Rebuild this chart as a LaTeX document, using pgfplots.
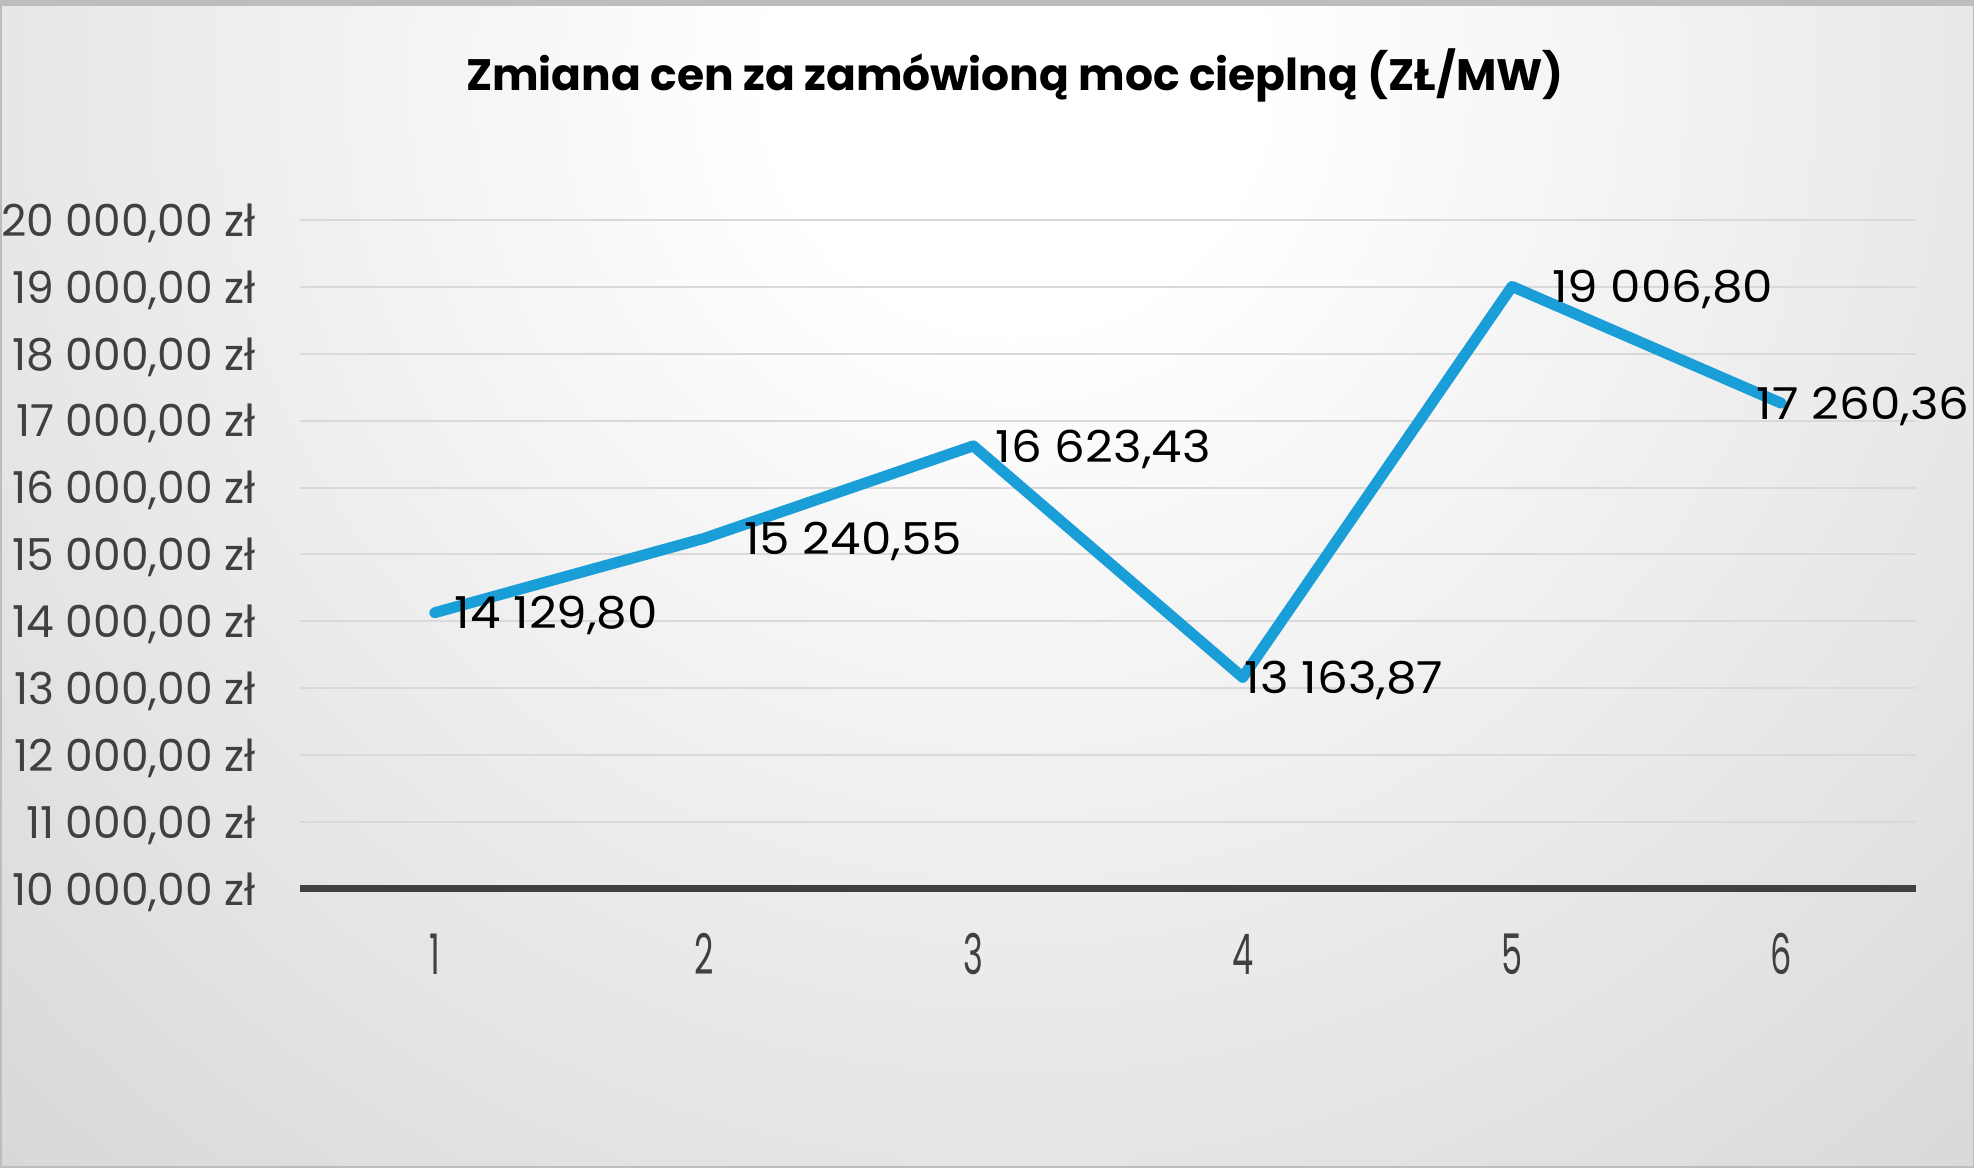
\documentclass[border=0pt]{standalone}
\usepackage{pgfplots}
\pgfplotsset{compat=1.18}
\usepackage{fontspec}
\setmainfont{Poppins}
\definecolor{lineblue}{HTML}{1A9ED8}
\definecolor{txtgray}{HTML}{404040}
\definecolor{gridgray}{HTML}{D9D9D9}
\definecolor{bgmid}{HTML}{D3D3D3}
\definecolor{bgedge}{HTML}{C5C5C5}
\definecolor{bgfar}{HTML}{C0C0C0}
\definecolor{bordergray}{HTML}{BDBDBD}
\pgfdeclareradialshading{bgshade}{\pgfpoint{0bp}{0bp}}{color(0bp)=(white); color(4bp)=(white); color(27bp)=(bgmid); color(40bp)=(bgedge); color(50bp)=(bgfar)}
\begin{document}
\begin{tikzpicture}[x=1pt,y=1pt]
\useasboundingbox (0,0) rectangle (987,583.5);
\begin{scope}
\clip (0,0) rectangle (987,583.5);
\fill[bgedge] (0,0) rectangle (987,583.5);
\shade[shading=bgshade] (507.5,543.5) circle (760);
\end{scope}
\draw[bordergray, line width=1.5pt] (0,0) rectangle (987,583.5);
\draw[bordergray, line width=3pt] (0,582) -- (987,582);
\node[font=\fontsize{22}{26}\selectfont\bfseries, text=black, anchor=center] at (507.5,546) {Zmiana cen za zamówioną moc cieplną (ZŁ/MW)};
\begin{axis}[
  at={(150pt,139pt)}, anchor=south west,
  scale only axis, width=808pt, height=334.5pt,
  xmin=0.5, xmax=6.5, ymin=10000, ymax=20000,
  clip=false,
  scaled y ticks=false,
  axis line style={draw=none},
  major tick length=0pt,
  xtick={1,2,3,4,5,6},
  xticklabel={\scalebox{0.6}[1]{\pgfmathprintnumber{\tick}}},
  xticklabel style={font=\fontsize{28}{32}\selectfont, text=txtgray, anchor=center, inner sep=0pt, yshift=-32.5pt},
  ytick={10000,11000,12000,13000,14000,15000,16000,17000,18000,19000,20000},
  yticklabels={{10 000,00 zł},{11 000,00 zł},{12 000,00 zł},{13 000,00 zł},{14 000,00 zł},{15 000,00 zł},{16 000,00 zł},{17 000,00 zł},{18 000,00 zł},{19 000,00 zł},{20 000,00 zł}},
  yticklabel style={font=\fontsize{22}{26}\selectfont, text=txtgray, anchor=east, inner sep=0pt, xshift=-22pt, text depth=0pt},
  ymajorgrids,
  grid style={gridgray, line width=1pt},
  /pgf/number format/assume math mode=true,
]
\draw[txtgray, line width=3.5pt] (axis cs:0.5,10000) -- (axis cs:6.5,10000);
\addplot[lineblue, line width=5.5pt, line cap=round, line join=round, mark=none,
  point meta=y,
  visualization depends on={x \as \xval},
  nodes near coords={\scalebox{1.1}[1]{\pgfmathprintnumber[fixed, fixed zerofill, precision=2, use comma, 1000 sep={\ }, assume math mode=true]{\pgfplotspointmeta}}},
  nodes near coords style={font=\fontsize{22}{26}\selectfont, text=black, anchor=west, inner sep=0pt,
    xshift={(\xval<1.5)*7.3+(\xval>1.5)*(\xval<2.5)*17.3+(\xval>2.5)*(\xval<3.5)*8.5+(\xval>3.5)*(\xval<4.5)*(-1.6)+(\xval>4.5)*(\xval<5.5)*17.3+(\xval>5.5)*(-15)},
    text depth=0pt},
] coordinates {
  (1,14129.80)
  (2,15240.55)
  (3,16623.43)
  (4,13163.87)
  (5,19006.80)
  (6,17260.36)
};
\end{axis}
\end{tikzpicture}
\end{document}
